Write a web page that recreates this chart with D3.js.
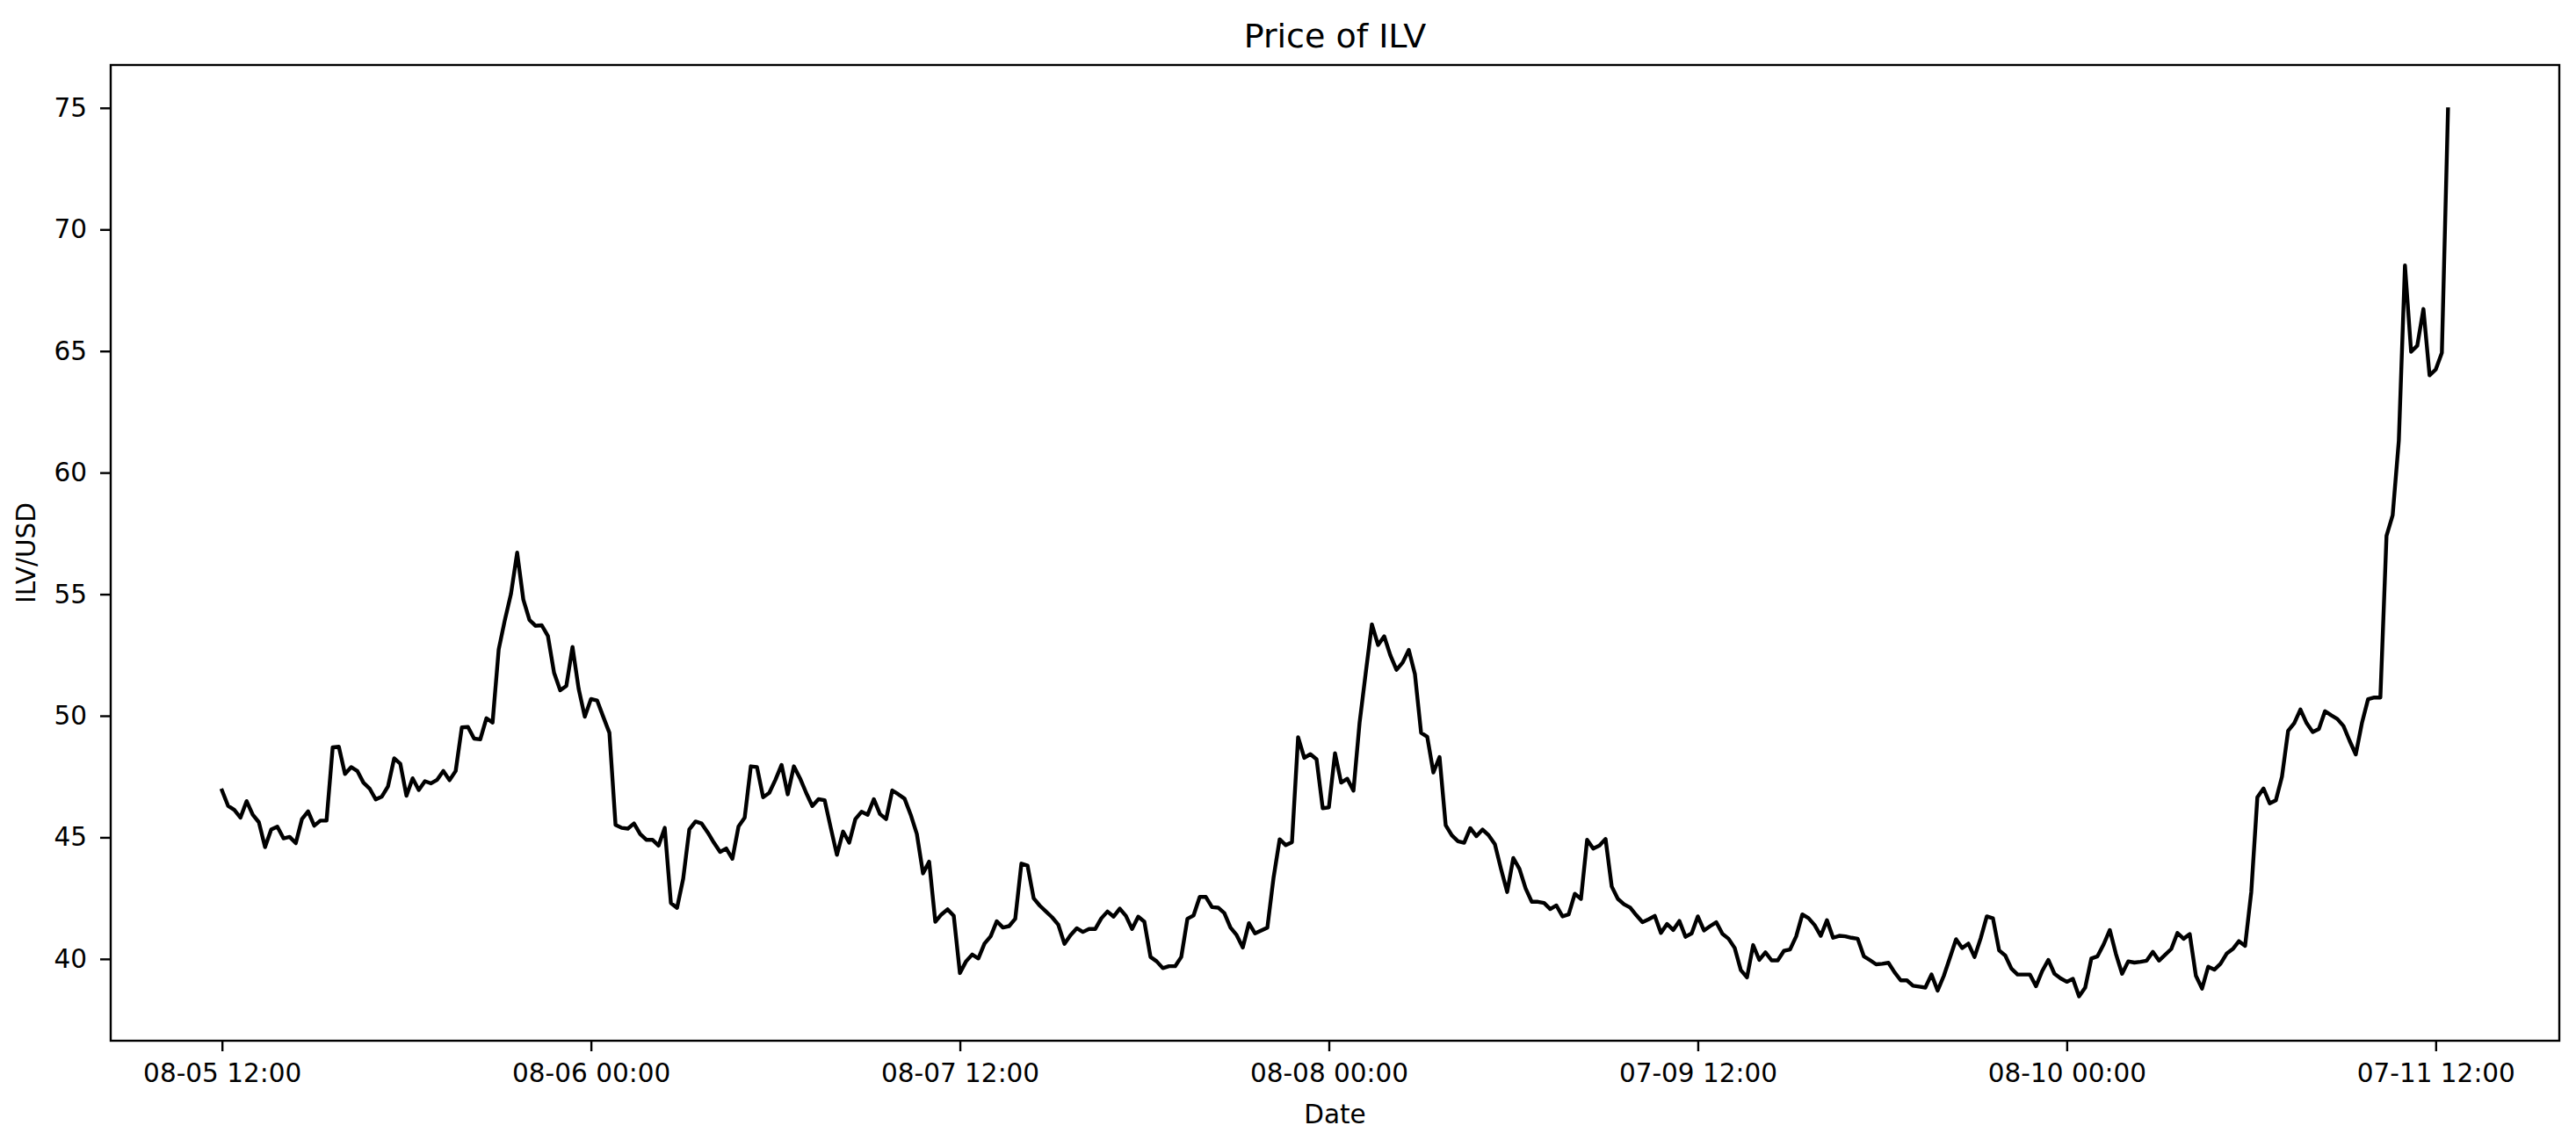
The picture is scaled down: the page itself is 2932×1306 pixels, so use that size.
<!DOCTYPE html>
<html><head><meta charset="utf-8">
<script src="https://cdn.jsdelivr.net/npm/d3@7"></script>
<style>
body{margin:0;background:#fff}
svg{display:block}
text{font-family:"DejaVu Sans",sans-serif;fill:#000}
</style>
</head><body>
<svg id="chart" width="2932" height="1306"></svg>
<script>
const chartTitle = "Price of ILV";
const xAxisLabel = "Date";
const yAxisLabel = "ILV/USD";

// Price series (one value per time step)
const prices = [
46.93,46.29,46.13,45.81,46.49,45.93,45.62,44.60,45.32,45.44,
44.96,45.02,44.76,45.75,46.07,45.48,45.69,45.69,48.70,48.73,
47.61,47.89,47.73,47.25,47.01,46.56,46.68,47.10,48.25,48.03,
46.71,47.43,46.95,47.31,47.22,47.37,47.73,47.35,47.73,49.52,
49.54,49.06,49.03,49.90,49.72,52.73,53.94,55.02,56.71,54.78,
53.94,53.70,53.72,53.28,51.77,51.05,51.23,52.83,51.11,49.96,
50.69,50.63,49.96,49.30,45.51,45.39,45.36,45.57,45.14,44.90,
44.90,44.66,45.39,42.30,42.10,43.30,45.33,45.65,45.57,45.20,
44.78,44.40,44.54,44.12,45.45,45.81,47.92,47.89,46.65,46.83,
47.37,47.98,46.77,47.92,47.43,46.83,46.29,46.57,46.53,45.39,
44.28,45.24,44.78,45.75,46.05,45.93,46.57,45.96,45.75,46.93,
46.77,46.59,45.93,45.14,43.52,44.00,41.53,41.83,42.04,41.77,
39.42,39.90,40.18,40.02,40.63,40.93,41.55,41.29,41.35,41.65,
43.92,43.84,42.49,42.19,41.95,41.71,41.41,40.62,40.98,41.26,
41.11,41.23,41.23,41.67,41.95,41.74,42.07,41.77,41.23,41.74,
41.53,40.08,39.90,39.62,39.70,39.70,40.08,41.65,41.79,42.55,
42.55,42.13,42.11,41.89,41.29,40.98,40.47,41.47,41.05,41.17,
41.29,43.33,44.92,44.68,44.80,49.12,48.27,48.42,48.21,46.20,
46.23,48.46,47.25,47.41,46.92,49.72,51.77,53.76,52.91,53.27,
52.49,51.89,52.19,52.71,51.71,49.30,49.14,47.67,48.30,45.50,
45.08,44.84,44.78,45.38,45.05,45.32,45.08,44.72,43.70,42.75,
44.15,43.70,42.90,42.35,42.35,42.30,42.05,42.20,41.75,41.83,
42.68,42.47,44.90,44.54,44.66,44.93,42.98,42.47,42.25,42.11,
41.80,41.51,41.63,41.77,41.07,41.44,41.19,41.56,40.91,41.05,
41.75,41.17,41.35,41.51,41.03,40.83,40.45,39.54,39.24,40.57,
39.96,40.27,39.94,39.94,40.33,40.39,40.93,41.83,41.68,41.39,
40.95,41.59,40.87,40.95,40.93,40.87,40.83,40.11,39.95,39.78,
39.80,39.84,39.45,39.12,39.12,38.90,38.86,38.82,39.36,38.70,
39.30,40.05,40.81,40.45,40.63,40.08,40.85,41.75,41.67,40.35,
40.14,39.60,39.36,39.36,39.36,38.88,39.50,39.96,39.39,39.20,
39.06,39.18,38.46,38.82,40.02,40.11,40.60,41.19,40.20,39.39,
39.90,39.85,39.88,39.93,40.29,39.93,40.17,40.41,41.07,40.83,
41.02,39.31,38.78,39.68,39.56,39.80,40.22,40.41,40.73,40.54,
42.74,46.65,47.01,46.40,46.52,47.50,49.38,49.70,50.26,49.70,
49.33,49.46,50.19,50.02,49.87,49.58,48.97,48.41,49.70,50.68,
50.75,50.75,57.40,58.25,61.31,68.52,64.97,65.22,66.73,64.00,
64.24,64.93,74.94
];

const xTickSteps = [0, 60, 120, 180, 240, 300, 360];
const xTickLabels = ["08-05 12:00","08-06 00:00","08-07 12:00","08-08 00:00","07-09 12:00","08-10 00:00","07-11 12:00"];
const yTickValues = [40, 45, 50, 55, 60, 65, 70, 75];

const W = 2932, H = 1306;
const margin = {left: 126, right: 19, top: 74, bottom: 121};
const svg = d3.select("#chart");

const n = prices.length - 1;
const x = d3.scaleLinear().domain([-0.05 * n, n * 1.05]).range([margin.left, W - margin.right]);
const [lo, hi] = d3.extent(prices);
const pad = (hi - lo) * 0.05;
const y = d3.scaleLinear().domain([lo - pad, hi + pad]).range([H - margin.bottom, margin.top]);

const fs = 29.5;

// x axis
const gx = svg.append("g")
  .attr("transform", `translate(0,${H - margin.bottom})`)
  .call(d3.axisBottom(x).tickValues(xTickSteps).tickFormat((d, i) => xTickLabels[i]).tickSize(12).tickPadding(14));
gx.select(".domain").remove();
gx.selectAll(".tick line").attr("stroke", "#000").attr("stroke-width", 2.4);
gx.selectAll(".tick text").attr("font-size", fs).attr("font-family", "DejaVu Sans").attr("fill", "#000");

// y axis
const gy = svg.append("g")
  .attr("transform", `translate(${margin.left},0)`)
  .call(d3.axisLeft(y).tickValues(yTickValues).tickFormat(d3.format("d")).tickSize(12).tickPadding(15));
gy.select(".domain").remove();
gy.selectAll(".tick line").attr("stroke", "#000").attr("stroke-width", 2.4);
gy.selectAll(".tick text").attr("font-size", fs).attr("font-family", "DejaVu Sans").attr("fill", "#000");

// price line
const line = d3.line().x((d, i) => x(i)).y(d => y(d));
svg.append("path")
  .datum(prices)
  .attr("fill", "none")
  .attr("stroke", "#000")
  .attr("stroke-width", 4.4)
  .attr("stroke-linejoin", "round")
  .attr("stroke-linecap", "square")
  .attr("d", line);

// frame
svg.append("rect")
  .attr("x", margin.left).attr("y", margin.top)
  .attr("width", W - margin.left - margin.right)
  .attr("height", H - margin.top - margin.bottom)
  .attr("fill", "none").attr("stroke", "#000").attr("stroke-width", 2.4);

// title and labels
svg.append("text")
  .attr("x", (margin.left + W - margin.right) / 2).attr("y", 54)
  .attr("text-anchor", "middle").attr("font-size", 38).text(chartTitle);
svg.append("text")
  .attr("x", (margin.left + W - margin.right) / 2).attr("y", 1279)
  .attr("text-anchor", "middle").attr("font-size", fs).text(xAxisLabel);
svg.append("text")
  .attr("transform", `translate(40,${(margin.top + H - margin.bottom) / 2}) rotate(-90)`)
  .attr("text-anchor", "middle").attr("font-size", fs).text(yAxisLabel);
</script>
</body></html>
